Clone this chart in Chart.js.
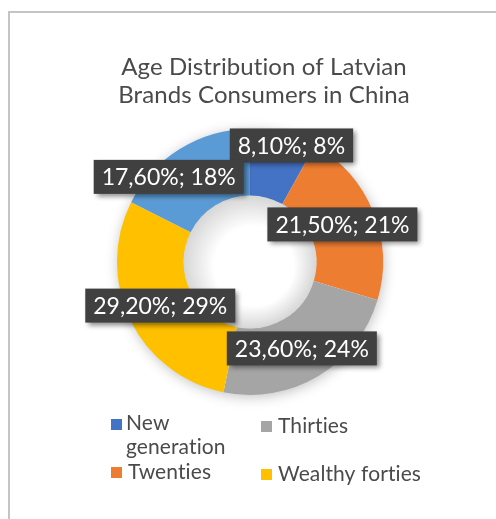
<!DOCTYPE html>
<html lang="en">
<head>
  <meta charset="UTF-8" />
  <title>Age Distribution of Latvian Brands Consumers in China</title>
  <style>
    * { margin: 0; padding: 0; }
    body { width: 496px; height: 519px; overflow: hidden; background: #fff; position: relative; }
    .frame {
      position: absolute; left: 8px; top: 11px; width: 700px; height: 700px;
      border-top: 2px solid #c4c4c4; border-left: 2px solid #c4c4c4;
    }
    .chartBox { position: absolute; left: 0; top: 0; width: 496px; height: 519px; }
  </style>
</head>
<body>
  <div class="frame"></div>
  <div class="chartBox"><canvas id="myChart"></canvas></div>
  <script src="https://cdn.jsdelivr.net/npm/chart.js@4"></script>
  <script>
    const titleLines = ["Age Distribution of Latvian", "Brands Consumers in China"];
    const labels = ["New generation", "Twenties", "Thirties", "Wealthy forties", ""];
    const values = [8.1, 21.5, 23.6, 29.2, 17.6];
    // rounded shares as printed on the chart
    const shares = [8, 21, 24, 29, 18];
    const colors = ["#4472C4", "#ED7D31", "#A5A5A5", "#FFC000", "#5B9BD5"];

    const FONT = "Lato, 'Open Sans', sans-serif";

    // title, shadows, data labels and legend drawn by hand
    const excelLook = {
      id: "excelLook",
      beforeDatasetsDraw(chart) {
        const arc = chart.getDatasetMeta(0).data[0];
        if (!arc) return;
        const ctx = chart.ctx;
        ctx.save();
        ctx.shadowColor = "rgba(0,0,0,0.28)";
        ctx.shadowBlur = 14;
        ctx.shadowOffsetX = 1;
        ctx.shadowOffsetY = 2;
        ctx.fillStyle = "#fff";
        ctx.beginPath();
        ctx.arc(arc.x, arc.y, arc.outerRadius - 1, 0, Math.PI * 2);
        ctx.fill();
        ctx.restore();
      },
      afterDatasetsDraw(chart) {
        const ctx = chart.ctx;
        const meta = chart.getDatasetMeta(0);
        const a0 = meta.data[0];

        // soft inner shadow in the hole
        ctx.save();
        const g = ctx.createRadialGradient(a0.x + 4, a0.y + 4, a0.innerRadius * 0.6, a0.x, a0.y, a0.innerRadius);
        g.addColorStop(0, "rgba(0,0,0,0)");
        g.addColorStop(1, "rgba(0,0,0,0.16)");
        ctx.fillStyle = g;
        ctx.beginPath();
        ctx.arc(a0.x, a0.y, a0.innerRadius, 0, Math.PI * 2);
        ctx.fill();
        ctx.restore();

        // data labels
        const tweak = [
          { r: 1.24, a: 5 }, { r: 1.0, a: 0 }, { r: 1.01, a: 0 },
          { r: 1.0, a: 0 }, { r: 1.18, a: -12 }
        ];
        ctx.save();
        ctx.font = "23px " + FONT;
        ctx.textAlign = "center";
        ctx.textBaseline = "middle";
        meta.data.forEach((el, i) => {
          const mid = (el.startAngle + el.endAngle) / 2 + tweak[i].a * Math.PI / 180;
          const rr = (el.innerRadius + el.outerRadius) / 2 * tweak[i].r;
          const cx = el.x + Math.cos(mid) * rr;
          const cy = el.y + Math.sin(mid) * rr;
          const txt = values[i].toFixed(2).replace(".", ",") + "%; " + shares[i] + "%";
          const w = ctx.measureText(txt).width + 16;
          const h = 34;
          ctx.save();
          ctx.shadowColor = "rgba(0,0,0,0.45)";
          ctx.shadowBlur = 5;
          ctx.shadowOffsetX = 3;
          ctx.shadowOffsetY = 3;
          ctx.fillStyle = "#404040";
          ctx.fillRect(cx - w / 2, cy - h / 2, w, h);
          ctx.restore();
          ctx.fillStyle = "#ffffff";
          ctx.fillText(txt, cx, cy + 1);
        });
        ctx.restore();
      },
      afterDraw(chart) {
        const ctx = chart.ctx;
        ctx.save();
        // title (small letter spacing keeps Lato from joining "ti")
        ctx.fillStyle = "#4a4a4a";
        ctx.font = "24px " + FONT;
        ctx.letterSpacing = "0.1px";
        ctx.textAlign = "center";
        ctx.textBaseline = "alphabetic";
        titleLines.forEach((t, i) => ctx.fillText(t, 264, 75 + i * 28));

        // legend, two columns
        ctx.font = "21px " + FONT;
        ctx.textAlign = "left";
        const cols = [111, 261];
        const rows = [431, 479];
        const items = [0, 1, 2, 3];
        items.forEach((idx, k) => {
          const x = cols[Math.floor(k / 2)];
          const y = rows[k % 2] + (Math.floor(k / 2) === 1 ? 2 : 0);
          ctx.fillStyle = colors[idx];
          ctx.fillRect(x, y - 12, 11, 11);
          ctx.fillStyle = "#4a4a4a";
          const words = labels[idx].split(" ");
          if (idx === 0) {
            ctx.fillText(words[0], x + 15, y - 1);
            ctx.fillText(words[1], x + 15, y + 23);
          } else {
            ctx.fillText(labels[idx], x + 17, y);
          }
        });
        ctx.restore();
      }
    };

    const data = {
      labels: labels,
      datasets: [{
        data: values,
        backgroundColor: colors,
        borderWidth: 0,
        hoverOffset: 0
      }]
    };

    const options = {
      responsive: true,
      maintainAspectRatio: false,
      animation: false,
      cutout: "50%",
      layout: { padding: { left: 117, right: 113, top: 129, bottom: 124 } },
      plugins: {
        legend: { display: false },
        title: { display: false },
        tooltip: { enabled: false }
      }
    };

    const ctx = document.getElementById("myChart").getContext("2d");
    const myChart = new Chart(ctx, {
      type: "doughnut",
      data: data,
      options: options,
      plugins: [excelLook]
    });
  </script>
</body>
</html>
